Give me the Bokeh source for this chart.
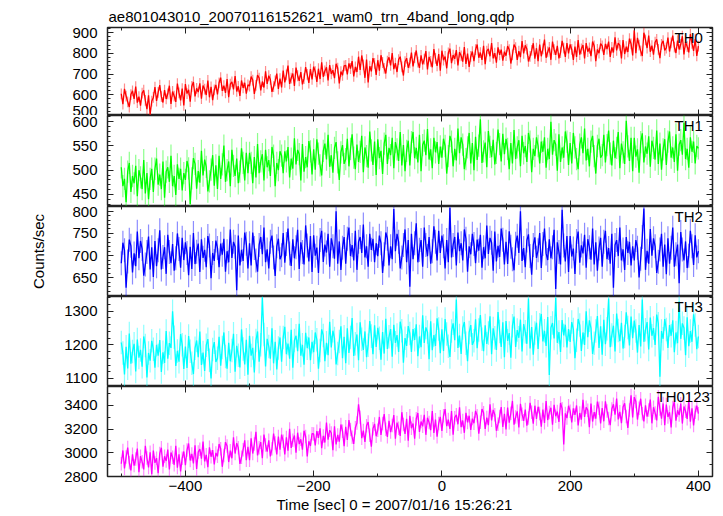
from bokeh.plotting import figure
from bokeh.models import Range1d, LinearAxis, SingleIntervalTicker, Label, Title, ColumnDataSource
from bokeh.layouts import column
from bokeh.embed import file_html
from bokeh.resources import INLINE

# ---------------- data (2.5 s samples from -500 s) ----------------
th0 = [605, 555, 629, 594, 566, 541, 601, 619, 580, 640, 562, 591, 548, 608, 622, 573, 531, 598, 505, 569,
       587, 637, 570, 612, 647, 591, 563, 623, 580, 605, 644, 556, 616, 594, 566, 654, 609, 573, 630, 549,
       652, 606, 624, 567, 641, 662, 592, 631, 613, 655, 581, 645, 627, 599, 669, 588, 638, 574, 624, 648,
       602, 658, 683, 619, 644, 609, 676, 588, 651, 662, 626, 690, 616, 641, 595, 669, 633, 658, 605, 648,
       642, 688, 671, 604, 646, 695, 681, 621, 664, 635, 713, 653, 692, 674, 614, 639, 667, 702, 628, 678,
       636, 717, 660, 696, 741, 653, 681, 703, 643, 731, 692, 667, 710, 650, 678, 734, 699, 657, 724, 674,
       736, 712, 662, 726, 676, 757, 687, 715, 733, 669, 743, 701, 719, 680, 750, 729, 655, 712, 694, 740,
       742, 699, 752, 727, 763, 689, 735, 710, 784, 720, 790, 745, 682, 770, 660, 738, 713, 777, 752, 696,
       767, 717, 791, 756, 728, 703, 763, 781, 742, 802, 724, 753, 710, 770, 784, 735, 693, 760, 777, 731,
       754, 804, 737, 779, 814, 758, 730, 790, 747, 772, 811, 723, 783, 761, 733, 821, 776, 740, 797, 716,
       813, 767, 785, 728, 802, 823, 753, 792, 774, 816, 742, 806, 788, 760, 830, 749, 799, 735, 785, 809,
       762, 818, 843, 779, 804, 769, 836, 748, 811, 822, 786, 850, 776, 801, 755, 829, 793, 818, 765, 808,
       789, 835, 818, 751, 793, 842, 828, 768, 811, 782, 860, 800, 839, 821, 761, 786, 814, 849, 775, 825,
       762, 843, 786, 822, 867, 779, 807, 829, 769, 857, 818, 793, 836, 776, 804, 860, 825, 783, 850, 800,
       843, 819, 769, 833, 783, 864, 794, 822, 840, 776, 850, 808, 826, 787, 857, 836, 762, 819, 801, 847,
       836, 793, 846, 821, 857, 783, 829, 804, 878, 814, 850, 839, 776, 864, 797, 832, 807, 871, 846, 790,
       912, 801, 875, 840, 812, 787, 900, 865, 826, 886, 808, 837, 794, 854, 868, 819, 777, 844, 861, 815,
       826, 876, 809, 851, 886, 830, 802, 862, 819, 844, 883, 795, 855, 833, 805, 893, 848, 812, 869, 788,
       835]

th1 = [506, 467, 482, 434, 497, 515, 455, 488, 473, 509, 446, 500, 485, 461, 521, 452, 494, 440, 482, 503,
       455, 503, 524, 470, 491, 461, 518, 443, 497, 506, 476, 530, 467, 488, 449, 512, 482, 503, 458, 494,
       480, 519, 504, 430, 483, 525, 513, 462, 498, 474, 540, 489, 522, 507, 456, 477, 501, 531, 468, 510,
       461, 530, 482, 512, 551, 476, 500, 518, 467, 542, 509, 488, 524, 473, 497, 545, 515, 479, 536, 494,
       536, 515, 473, 527, 485, 554, 494, 518, 533, 479, 542, 506, 521, 488, 548, 530, 467, 515, 500, 539,
       530, 494, 539, 518, 548, 485, 524, 503, 566, 512, 542, 533, 479, 554, 497, 527, 506, 560, 539, 491,
       543, 501, 564, 534, 510, 489, 540, 555, 522, 573, 507, 531, 495, 546, 558, 516, 480, 537, 552, 513,
       523, 565, 508, 544, 574, 526, 502, 553, 517, 538, 571, 496, 547, 529, 505, 580, 541, 511, 559, 490,
       564, 525, 540, 492, 555, 573, 513, 546, 531, 567, 504, 558, 543, 519, 579, 510, 552, 498, 540, 561,
       510, 558, 579, 525, 546, 516, 573, 498, 552, 561, 531, 585, 522, 543, 504, 567, 537, 558, 513, 549,
       526, 565, 550, 493, 529, 571, 559, 508, 544, 520, 586, 535, 568, 553, 502, 523, 547, 577, 514, 556,
       500, 569, 521, 551, 605, 515, 539, 557, 506, 581, 548, 527, 563, 512, 536, 584, 554, 518, 575, 533,
       565, 544, 502, 556, 514, 583, 523, 547, 562, 508, 571, 535, 550, 517, 577, 559, 496, 544, 529, 568,
       550, 514, 559, 538, 568, 505, 544, 523, 600, 532, 562, 553, 499, 574, 517, 547, 526, 580, 559, 511,
       556, 514, 577, 547, 523, 502, 553, 568, 535, 586, 520, 544, 508, 559, 571, 529, 493, 550, 565, 526,
       531, 573, 516, 552, 582, 534, 510, 561, 525, 546, 579, 504, 555, 537, 513, 602, 549, 519, 567, 498,
       567, 528, 543, 495, 558, 576, 516, 549, 534, 570, 507, 561, 546, 522, 582, 513, 555, 501, 543, 564,
       511, 559, 580, 526, 547, 517, 574, 499, 553, 562, 532, 598, 523, 544, 505, 568, 538, 559, 514, 550,
       545]

th2 = [683, 729, 712, 628, 687, 736, 722, 662, 705, 676, 754, 694, 733, 715, 655, 680, 708, 743, 669, 719,
       652, 733, 676, 712, 757, 669, 697, 719, 659, 747, 708, 683, 726, 666, 694, 750, 715, 673, 740, 690,
       730, 706, 656, 720, 670, 751, 681, 709, 727, 663, 737, 695, 713, 674, 744, 723, 649, 706, 688, 734,
       717, 674, 727, 702, 738, 664, 710, 685, 759, 695, 731, 720, 622, 745, 678, 713, 688, 752, 727, 671,
       728, 678, 752, 717, 689, 664, 724, 742, 703, 763, 685, 714, 671, 731, 745, 696, 654, 721, 738, 692,
       701, 751, 684, 726, 761, 705, 677, 737, 694, 719, 758, 670, 730, 708, 680, 768, 723, 687, 744, 663,
       746, 700, 718, 661, 735, 756, 686, 725, 707, 749, 675, 739, 721, 693, 800, 682, 732, 668, 718, 742,
       682, 738, 763, 699, 724, 689, 756, 668, 731, 742, 706, 770, 696, 721, 675, 749, 713, 738, 685, 728,
       699, 745, 728, 661, 703, 752, 738, 678, 721, 692, 805, 710, 749, 731, 671, 696, 724, 759, 685, 735,
       630, 749, 692, 728, 773, 685, 713, 735, 675, 763, 724, 699, 742, 682, 710, 766, 731, 689, 756, 706,
       745, 721, 671, 735, 685, 808, 696, 724, 742, 678, 752, 710, 728, 689, 759, 738, 664, 721, 703, 749,
       726, 683, 736, 711, 747, 673, 719, 694, 768, 704, 740, 729, 666, 754, 687, 722, 697, 761, 736, 680,
       731, 681, 755, 720, 692, 667, 727, 745, 706, 800, 688, 717, 674, 734, 748, 699, 657, 724, 741, 695,
       712, 751, 672, 726, 761, 705, 690, 737, 694, 719, 758, 625, 730, 708, 680, 803, 723, 687, 744, 663,
       744, 698, 716, 659, 733, 754, 684, 723, 705, 747, 673, 737, 719, 691, 761, 680, 730, 666, 716, 740,
       675, 731, 756, 692, 717, 682, 749, 628, 724, 735, 699, 763, 689, 714, 668, 742, 706, 731, 678, 721,
       689, 735, 718, 651, 693, 742, 806, 668, 711, 682, 760, 700, 739, 721, 661, 686, 714, 749, 675, 725,
       658, 739, 682, 718, 763, 675, 703, 725, 638, 753, 714, 689, 732, 672, 700, 756, 721, 679, 746, 696,
       710]

th3 = [1207, 1176, 1112, 1194, 1130, 1234, 1144, 1180, 1203, 1121, 1216, 1162, 1185, 1135, 1225, 1198, 1103, 1176, 1153, 1212,
       1187, 1132, 1200, 1168, 1214, 1119, 1178, 1146, 1241, 1159, 1205, 1191, 1300, 1223, 1137, 1182, 1150, 1232, 1200, 1128,
       1195, 1131, 1226, 1181, 1145, 1113, 1190, 1213, 1163, 1240, 1140, 1177, 1122, 1199, 1217, 1154, 1100, 1186, 1208, 1149,
       1160, 1224, 1138, 1192, 1237, 1165, 1129, 1206, 1151, 1183, 1233, 1120, 1197, 1169, 1133, 1246, 1188, 1142, 1215, 1111,
       1227, 1168, 1191, 1118, 1213, 1240, 1150, 1200, 1342, 1231, 1136, 1218, 1195, 1159, 1249, 1145, 1209, 1127, 1191, 1222,
       1150, 1222, 1254, 1172, 1204, 1159, 1245, 1132, 1213, 1227, 1181, 1263, 1168, 1200, 1141, 1236, 1190, 1222, 1154, 1209,
       1178, 1237, 1215, 1129, 1183, 1246, 1228, 1151, 1206, 1169, 1269, 1192, 1242, 1219, 1142, 1174, 1210, 1255, 1160, 1224,
       1145, 1249, 1176, 1222, 1280, 1167, 1203, 1231, 1154, 1267, 1217, 1185, 1240, 1163, 1199, 1271, 1226, 1172, 1258, 1194,
       1251, 1220, 1156, 1238, 1174, 1278, 1188, 1224, 1247, 1165, 1260, 1206, 1229, 1179, 1269, 1242, 1147, 1220, 1197, 1256,
       1234, 1179, 1247, 1215, 1261, 1166, 1225, 1193, 1288, 1206, 1252, 1238, 1157, 1270, 1184, 1229, 1197, 1279, 1247, 1175,
       1246, 1182, 1277, 1232, 1196, 1164, 1241, 1264, 1214, 1335, 1191, 1228, 1173, 1250, 1268, 1205, 1151, 1237, 1259, 1200,
       1212, 1276, 1190, 1244, 1289, 1217, 1181, 1258, 1203, 1235, 1285, 1172, 1249, 1221, 1185, 1298, 1240, 1194, 1267, 1163,
       1271, 1212, 1235, 1162, 1257, 1284, 1194, 1244, 1221, 1275, 1180, 1262, 1239, 1203, 1338, 1189, 1253, 1171, 1235, 1266,
       1188, 1260, 1292, 1210, 1242, 1197, 1283, 1110, 1251, 1265, 1219, 1340, 1206, 1238, 1179, 1274, 1228, 1260, 1192, 1247,
       1209, 1268, 1246, 1160, 1214, 1277, 1259, 1182, 1237, 1200, 1300, 1223, 1273, 1250, 1173, 1205, 1241, 1286, 1191, 1255,
       1171, 1275, 1202, 1248, 1338, 1193, 1229, 1257, 1180, 1293, 1243, 1211, 1266, 1189, 1225, 1297, 1252, 1198, 1284, 1220,
       1272, 1241, 1177, 1259, 1195, 1335, 1209, 1245, 1268, 1186, 1281, 1227, 1250, 1200, 1290, 1263, 1105, 1241, 1218, 1277,
       1246, 1191, 1259, 1227, 1273, 1178, 1237, 1205, 1330, 1218, 1264, 1250, 1169, 1282, 1196, 1241, 1209, 1291, 1259, 1187,
       1225]

th0123 = [2908, 3020, 2868, 2964, 3044, 2916, 2852, 2988, 2892, 2948, 3036, 2836, 2972, 2924, 2860, 3060, 2956, 2876, 3004, 2820,
          3019, 2915, 2955, 2827, 2995, 3043, 2883, 2971, 2931, 3027, 2859, 3003, 2963, 2899, 3059, 2875, 2987, 2843, 2955, 3011,
          2895, 3023, 3079, 2935, 2991, 2911, 3063, 2863, 3007, 3031, 2951, 3095, 2927, 2983, 2879, 3047, 2967, 3023, 2903, 2999,
          2970, 3074, 3034, 2882, 2978, 3090, 3058, 2922, 3018, 2954, 3130, 2994, 3082, 3042, 2906, 2962, 3026, 3106, 2938, 3050,
          2938, 3122, 2994, 3074, 3178, 2978, 3042, 3090, 2954, 3154, 3066, 3010, 3106, 2970, 3034, 3162, 3082, 2986, 3138, 3026,
          3154, 3098, 2986, 3130, 3018, 3202, 3042, 3106, 3146, 3002, 3170, 3074, 3114, 3026, 3186, 3138, 2970, 3098, 3058, 3162,
          3159, 3063, 3183, 3127, 3207, 3039, 3143, 3087, 3255, 3111, 3191, 3167, 3023, 3223, 3071, 3151, 3095, 3239, 3183, 3055,
          3220, 3108, 3276, 3196, 3132, 3076, 3212, 3252, 3410, 3300, 3124, 3188, 3092, 3228, 3260, 3148, 3052, 3204, 3244, 3140,
          3191, 3303, 3151, 3247, 3327, 3199, 3135, 3271, 3175, 3231, 3319, 3119, 3255, 3207, 3143, 3343, 3239, 3159, 3287, 3103,
          3312, 3208, 3248, 3120, 3288, 3336, 3176, 3264, 3224, 3320, 3152, 3296, 3256, 3192, 3352, 3168, 3280, 3136, 3248, 3304,
          3185, 3313, 3369, 3225, 3281, 3201, 3353, 3153, 3297, 3321, 3241, 3385, 3217, 3273, 3169, 3337, 3257, 3313, 3193, 3289,
          3250, 3354, 3314, 3162, 3258, 3370, 3338, 3202, 3298, 3234, 3410, 3274, 3362, 3322, 3186, 3242, 3306, 3386, 3218, 3330,
          3198, 3382, 3254, 3334, 3438, 3238, 3302, 3350, 3214, 3414, 3326, 3270, 3366, 3230, 3294, 3422, 3342, 3246, 3398, 3286,
          3389, 3333, 3221, 3365, 3253, 3437, 3277, 3341, 3381, 3237, 3405, 3309, 3349, 3261, 3421, 3373, 3070, 3333, 3293, 3397,
          3352, 3256, 3376, 3320, 3400, 3232, 3336, 3280, 3448, 3304, 3384, 3360, 3216, 3416, 3264, 3344, 3288, 3432, 3376, 3248,
          3378, 3266, 3434, 3354, 3290, 3234, 3370, 3410, 3322, 3458, 3282, 3346, 3250, 3386, 3418, 3306, 3210, 3362, 3485, 3298,
          3470, 3433, 3281, 3377, 3457, 3329, 3265, 3401, 3305, 3361, 3449, 3249, 3385, 3337, 3273, 3473, 3369, 3289, 3417, 3233,
          3407, 3303, 3343, 3215, 3383, 3431, 3271, 3359, 3319, 3415, 3247, 3391, 3351, 3287, 3447, 3263, 3375, 3231, 3343, 3399,
          3330]

time_start = -500.0
time_step = 2.5

# typical 1-sigma error bar of each band (counts/sec)
band_errors = [26, 23, 27, 35, 57]

band_names = ["TH0", "TH1", "TH2", "TH3", "TH0123"]
band_values = [th0, th1, th2, th3, th0123]

title_text = "ae801043010_20070116152621_wam0_trn_4band_long.qdp"
x_title = "Time [sec] 0 = 2007/01/16 15:26:21"
y_title = "Counts/sec"

# ---------------- styling / layout ----------------
FONT = "Liberation Sans"
colors = ["#ff0000", "#00ff00", "#0000ff", "#00ffff", "#ff00ff"]
y_ranges = [(500, 925), (425, 613), (608, 810.6), (1076, 1344), (2800, 3560)]
y_steps = [(100, 5), (50, 5), (50, 5), (100, 5), (200, 2)]
frame_heights = [88, 91, 90, 90, 90]
label_x = [567, 567, 567, 567, 549]

x_range = Range1d(-521.5, 422)
FRAME_W = 605
AX = "#222222"


def style_axis(ax, labels):
    ax.axis_line_color = None
    ax.major_tick_in = 6
    ax.major_tick_out = 0
    ax.minor_tick_in = 3
    ax.minor_tick_out = 0
    ax.major_tick_line_color = AX
    ax.minor_tick_line_color = AX
    ax.major_tick_line_width = 1
    ax.minor_tick_line_width = 1
    if labels:
        ax.major_label_text_font = FONT
        ax.major_label_text_font_size = "15px"
        ax.major_label_text_color = "black"
    else:
        ax.major_label_text_font_size = "0px"
        ax.major_label_text_color = None
        ax.major_label_standoff = 0


figs = []
n = len(band_names)
for i in range(n):
    last = i == n - 1
    first = i == 0
    p = figure(frame_width=FRAME_W, frame_height=frame_heights[i],
               x_range=x_range, y_range=Range1d(*y_ranges[i]),
               output_backend="svg", toolbar_location=None,
               x_axis_location=None, y_axis_location=None,
               min_border_left=107, min_border_right=8,
               min_border_top=27 if first else 0,
               min_border_bottom=0,
               title=title_text if first else None)
    p.grid.visible = False
    p.background_fill_color = "white"
    p.border_fill_color = "white"
    p.outline_line_color = AX
    p.outline_line_width = 1.5

    if first:
        p.title.text_font = FONT
        p.title.text_font_size = "15px"
        p.title.text_font_style = "normal"
        p.title.text_color = "black"
        p.title.align = "left"
        p.title.offset = 1
        p.title.standoff = 6

    yt = SingleIntervalTicker(interval=y_steps[i][0], num_minor_ticks=y_steps[i][1])
    xt = SingleIntervalTicker(interval=200, num_minor_ticks=2)

    left = LinearAxis(ticker=yt)
    style_axis(left, True)
    left.major_label_standoff = 10
    if i == 2:
        left.axis_label = y_title
        left.axis_label_text_font = FONT
        left.axis_label_text_font_size = "15px"
        left.axis_label_text_font_style = "normal"
        left.axis_label_text_color = "black"
        left.axis_label_standoff = 22
    p.add_layout(left, "left")

    right = LinearAxis(ticker=yt)
    style_axis(right, False)
    p.add_layout(right, "right")

    top = LinearAxis(ticker=xt)
    style_axis(top, False)
    p.add_layout(top, "above")

    bottom = LinearAxis(ticker=xt)
    style_axis(bottom, last)
    if last:
        bottom.major_label_standoff = 4
        bottom.major_label_overrides = {-400: "\u2212400", -200: "\u2212200"}
    p.add_layout(bottom, "below")
    if last:
        xt_title = Title(text=x_title, align="left", offset=169,
                         text_font=FONT, text_font_size="15px", text_color="black",
                         text_font_style="normal", standoff=0)
        p.add_layout(xt_title, "below")

    vals = band_values[i]
    err = band_errors[i]
    t = [time_start + time_step * k for k in range(len(vals))]
    src = ColumnDataSource(dict(t=t, v=vals,
                                lo=[v - err for v in vals],
                                hi=[v + err for v in vals]))
    p.segment("t", "lo", "t", "hi", source=src, line_color=colors[i],
              line_width=1.2, line_alpha=0.45)
    p.line("t", "v", source=src, line_color=colors[i], line_width=1.3)

    p.add_layout(Label(x=label_x[i], y=frame_heights[i] - 1, x_units="screen", y_units="screen",
                       text=band_names[i], text_font=FONT, text_font_size="15px",
                       text_baseline="top", text_align="left", text_color="black"))
    figs.append(p)

layout = column(*figs, spacing=0)
open("out.html", "w").write(file_html(layout, INLINE))
